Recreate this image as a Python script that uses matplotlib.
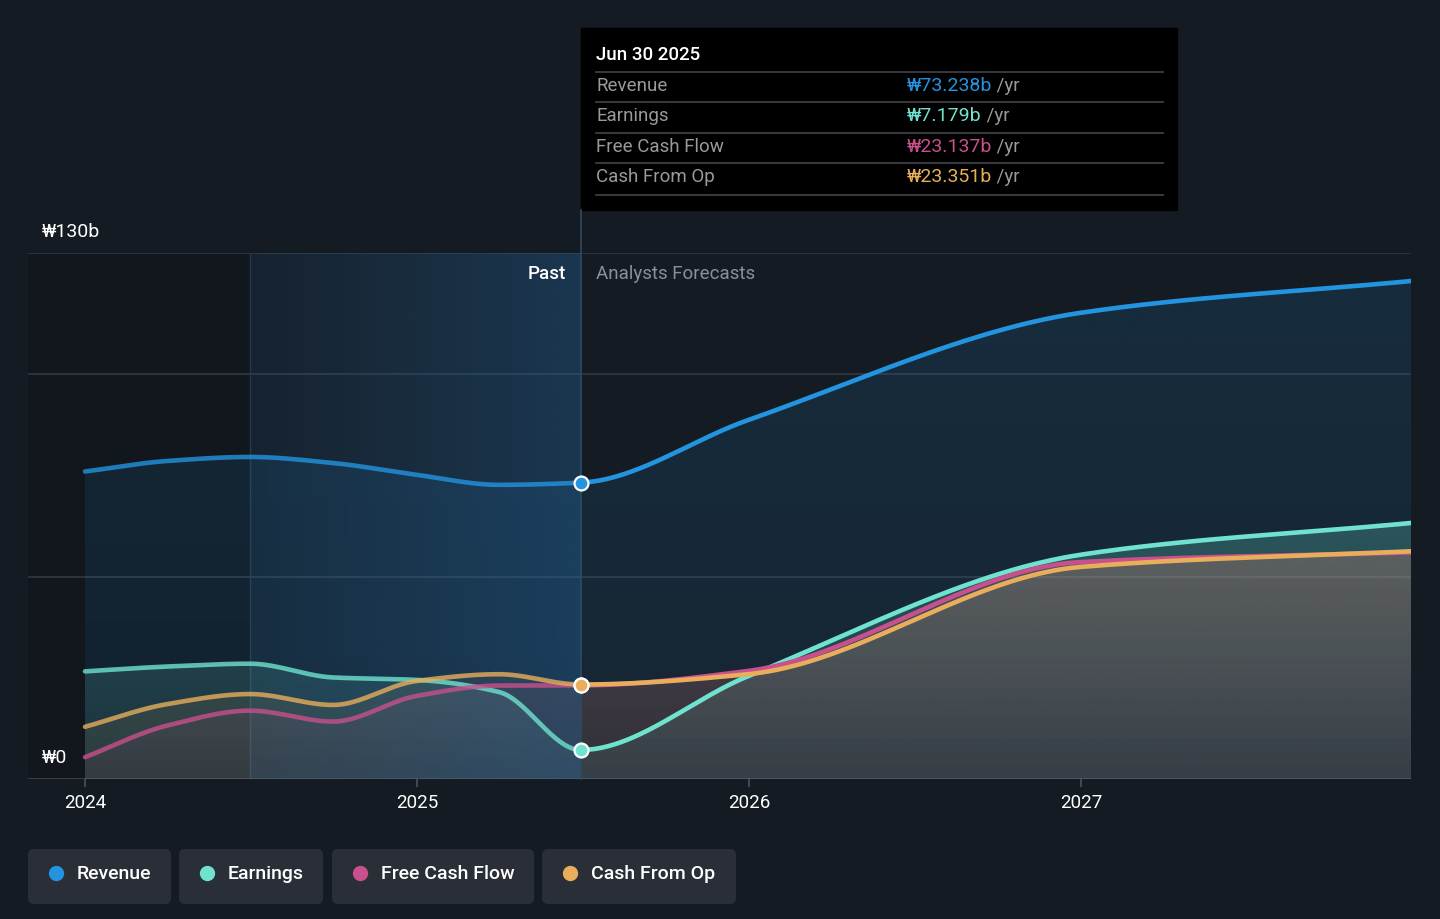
import numpy as np
import matplotlib.pyplot as plt
from matplotlib.patches import FancyBboxPatch, Rectangle

plt.rcParams['font.family'] = ['Roboto', 'DejaVu Sans']

# Data (billions of won), quarterly history then annual analyst forecasts
past_t = [2024.0, 2024.247, 2024.497, 2024.747, 2024.997, 2025.247, 2025.493]
fc_t = [2025.493, 2025.997, 2026.997, 2027.997]

revenue_past = [76.0, 78.6, 79.6, 78.1, 75.2, 72.7, 73.238]
earnings_past = [26.6, 27.8, 28.5, 25.1, 24.5, 21.5, 7.179]
fcf_past = [5.4, 13.2, 16.9, 14.2, 20.5, 23.1, 23.137]
cfo_past = [12.9, 18.5, 21.0, 18.3, 24.2, 25.9, 23.351]

revenue_fc = [73.238, 88.7, 115.2, 123.1]
earnings_fc = [7.179, 25.4, 55.4, 63.3]
fcf_fc = [23.137, 26.7, 53.6, 56.0]
cfo_fc = [23.351, 25.9, 52.4, 56.3]

series_names = ['Revenue', 'Earnings', 'Free Cash Flow', 'Cash From Op']
colors = ['#2394df', '#6fe3cf', '#c8508c', '#e8ae5c']
tip_values = ['₩73.238b', '₩7.179b', '₩23.137b', '₩23.351b']

BG = '#151b23'
NOW = 2025.493


def monotone(x, y, n=80):
    # monotone cubic (Fritsch-Carlson), just for drawing smooth lines
    x = np.asarray(x, float)
    y = np.asarray(y, float)
    h = np.diff(x)
    d = np.diff(y) / h
    m = np.zeros_like(y)
    m[0], m[-1] = d[0], d[-1]
    for i in range(1, len(y) - 1):
        if d[i - 1] * d[i] <= 0:
            m[i] = 0
        else:
            w1 = 2 * h[i] + h[i - 1]
            w2 = h[i] + 2 * h[i - 1]
            m[i] = (w1 + w2) / (w1 / d[i - 1] + w2 / d[i])
    xs, ys = [], []
    for i in range(len(h)):
        t = np.linspace(0, 1, n, endpoint=(i == len(h) - 1))
        h00 = 2 * t**3 - 3 * t**2 + 1
        h10 = t**3 - 2 * t**2 + t
        h01 = -2 * t**3 + 3 * t**2
        h11 = t**3 - t**2
        xs.append(x[i] + t * h[i])
        ys.append(h00 * y[i] + h10 * h[i] * m[i] + h01 * y[i + 1] + h11 * h[i] * m[i + 1])
    return np.concatenate(xs), np.concatenate(ys)


W, H = 1440, 919
fig = plt.figure(figsize=(W / 100, H / 100), dpi=100, facecolor=BG)

# overlay axes in pixel coords for tooltip / legend
ov = fig.add_axes([0, 0, 1, 1], zorder=0)
ov.set_xlim(0, W)
ov.set_ylim(H, 0)
ov.axis('off')

left_px, right_px, top_px, bot_px = 28, 1411, 253, 779
ax = fig.add_axes([left_px / W, (H - bot_px) / H, (right_px - left_px) / W, (bot_px - top_px) / H], zorder=1)
ax.set_facecolor('none')
x0 = 2024 + (left_px - 85) / 332
x1 = 2024 + (right_px - 85) / 332

# background regions
ax.axvspan(x0, 2024.497, color='#0f1216', alpha=0.45, lw=0, zorder=0)
grad = np.zeros((2, 200, 4))
grad[..., :3] = np.array([0x25, 0x68, 0xa0]) / 255
grad[..., 3] = np.linspace(0.10, 0.36, 200)[None, :]
ax.imshow(grad, extent=[2024.497, NOW, 0, 130], aspect='auto', zorder=1.5, interpolation='bilinear')
ax.axvline(2024.497, color='#243546', lw=1, zorder=0.6)

for yv in [50, 100, 130]:
    ax.axhline(yv, color='#2e3640', lw=1.3, zorder=0.7)
ax.axhline(0, color='#3a424d', lw=1.3, zorder=0.7)

past = [revenue_past, earnings_past, fcf_past, cfo_past]
fc = [revenue_fc, earnings_fc, fcf_fc, cfo_fc]
fill_top = [0.14, 0.24, 0.16, 0.16]
fill_bot = [0.09, 0.09, 0.07, 0.07]
for i in range(4):
    xs, ys = monotone(past_t + fc_t[1:], past[i] + fc[i][1:])
    poly = ax.fill_between(xs, 0, ys, color='none', lw=0)
    top = ys.max()
    g = np.zeros((200, 2, 4))
    g[..., :3] = np.array([int(colors[i][k:k + 2], 16) for k in (1, 3, 5)]) / 255
    g[..., 3] = np.linspace(fill_top[i], fill_bot[i], 200)[:, None]
    im = ax.imshow(g, extent=[x0, x1, 0, top], aspect='auto', zorder=1 + i * 0.1,
                   interpolation='bilinear', origin='upper')
    im.set_clip_path(poly.get_paths()[0], transform=ax.transData)
    pm = xs <= NOW + 1e-9
    ax.plot(xs[pm], ys[pm], color=colors[i], lw=3.3, alpha=0.8, zorder=2 + i * 0.1,
            solid_capstyle='round')
    fm = xs >= NOW - 1e-9
    ax.plot(xs[fm], ys[fm], color=colors[i], lw=3.3, zorder=2 + i * 0.1, solid_capstyle='round')

ax.set_xlim(x0, x1)
ax.set_ylim(0, 130)

for i in [0, 2, 3, 1]:
    ax.plot([NOW], [fc[i][0]], 'o', ms=10, color=colors[i], mec='white', mew=1.6, zorder=5)

# now line
ax.plot([NOW, NOW], [0, 140.6], color='#2f4a63', lw=1.2, clip_on=False, zorder=1.6)

ax.set_xticks([2024, 2025, 2026, 2027])
ax.set_xticklabels(['2024', '2025', '2026', '2027'])
ax.tick_params(axis='x', colors='#4a525c', length=6, width=1.2, labelcolor='white', labelsize=13.5, pad=5)
ax.set_yticks([])
for s in ax.spines.values():
    s.set_visible(False)

# y labels on the figure so they sit above the plot shading
fig.text(42 / W, 1 - 232 / H, '₩130b', color='white', fontsize=14, va='center', ha='left')
fig.text(42 / W, 1 - 758 / H, '₩0', color='white', fontsize=14, va='center', ha='left')
fig.text(566 / W, 1 - 274 / H, 'Past', color='white', fontsize=13.5, va='center', ha='right',
         fontweight='medium')
fig.text(596 / W, 1 - 274 / H, 'Analysts Forecasts', color='#8b9098', fontsize=13.5,
         va='center', ha='left')

# tooltip
ov.add_patch(Rectangle((581, 28), 596, 182, color='black', zorder=3))
ov.text(596, 55, 'Jun 30 2025', color='white', fontsize=13.5, va='center', ha='left', zorder=4,
        fontweight='medium')
for yl in [72, 102, 133, 163, 195]:
    ov.plot([596, 1163], [yl, yl], color='#3c3f44', lw=1.3, zorder=4)
rows_y = [86, 116, 147, 177]
for name, col, val, yr in zip(series_names, colors, tip_values, rows_y):
    ov.text(596, yr, name, color='#9a9a9a', fontsize=13.5, va='center', ha='left', zorder=4)
    t = ov.text(907, yr, val, color=col, fontsize=14, va='center', ha='left', zorder=4)
    ov.annotate(' /yr', xycoords=t, xy=(1, 0.5), va='center', ha='left',
                color='#9a9a9a', fontsize=13.5, zorder=4)

# legend chips
chips = [(28, 171), (179, 323), (332, 534), (542, 736)]
for (a, b), name, col in zip(chips, series_names, colors):
    ov.add_patch(FancyBboxPatch((a + 6, 855), b - a - 12, 43,
                                boxstyle='round,pad=6,rounding_size=6', fc='#2a2f37', ec='none', zorder=2))
    ov.plot([a + 28], [873], 'o', ms=10, color=col, zorder=3)
    ov.text(a + 49, 874, name, color='white', fontsize=14, va='center', ha='left', zorder=3,
            fontweight='medium')

fig.savefig('out.png', dpi=100, facecolor=BG)
